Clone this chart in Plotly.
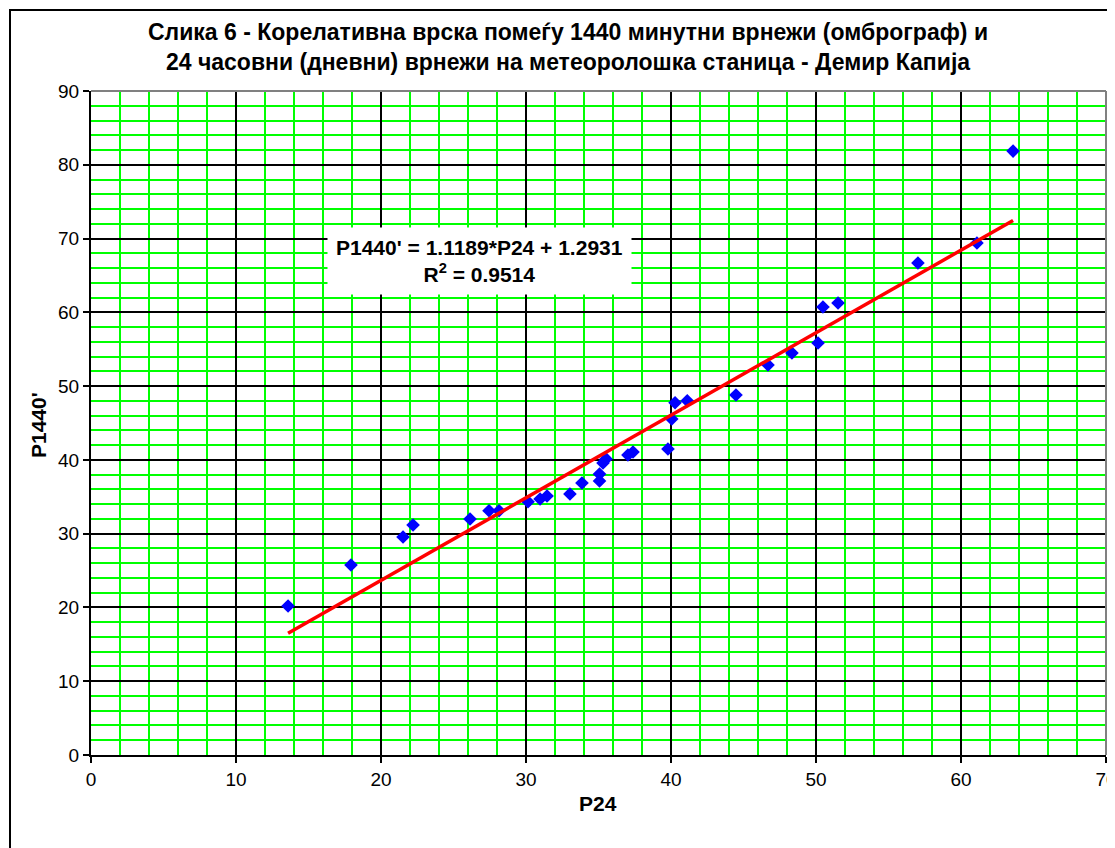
import plotly.graph_objects as go

# Data
p24 = [13.59, 17.93, 21.52, 22.21, 26.14, 27.45, 28.14, 30.14, 30.97, 31.45,
       33.03, 33.86, 35.07, 35.07, 35.31, 35.52, 37.03, 37.38, 39.79, 40.05,
       40.28, 41.12, 44.48, 46.69, 48.34, 50.14, 50.48, 51.52, 57.03, 61.10, 63.59]
p1440 = [20.19, 25.75, 29.55, 31.17, 31.99, 33.11, 33.11, 34.33, 34.70, 35.10,
         35.38, 36.87, 37.14, 38.09, 39.58, 40.13, 40.66, 41.07, 41.47, 45.54,
         47.75, 48.02, 48.79, 52.86, 54.49, 55.84, 60.72, 61.27, 66.69, 69.40, 81.86]

slope = 1.1189
intercept = 1.2931
r2 = 0.9514

title_lines = ["Слика 6 - Корелативна врска помеѓу 1440 минутни врнежи (омброграф) и",
               "24 часовни (дневни) врнежи на метеоролошка станица - Демир Капија"]
x_title = "P24"
y_title = "P1440'"

x_ticks = [0, 10, 20, 30, 40, 50, 60, 70]
y_ticks = [0, 10, 20, 30, 40, 50, 60, 70, 80, 90]

FONT = "Arial, 'Liberation Sans', sans-serif"

xmin, xmax = min(p24), max(p24)
trend_x = [xmin, xmax]
trend_y = [slope * v + intercept for v in trend_x]

fig = go.Figure()
fig.add_trace(go.Scatter(x=p24, y=p1440, mode="markers",
                         marker=dict(symbol="diamond", size=10.5, color="#0000FF",
                                     line=dict(width=0)),
                         showlegend=False))
fig.add_trace(go.Scatter(x=trend_x, y=trend_y, mode="lines",
                         line=dict(color="#FF0000", width=3.5),
                         showlegend=False))

axis_common = dict(
    showgrid=True, gridcolor="#000000", gridwidth=1.5,
    showline=True, linecolor="#000000", linewidth=2,
    ticks="outside", ticklen=6, tickcolor="#000000", tickwidth=1.5,
    tickfont=dict(family=FONT, size=19, color="#000000"),
    zeroline=False, ticklabeloverflow="allow", automargin=False,
    minor=dict(dtick=2, showgrid=True, gridcolor="#00FF00", gridwidth=2, ticks=""),
)

fig.update_xaxes(range=[0, 70], tickvals=x_ticks, **axis_common)
fig.update_yaxes(range=[0, 90], tickvals=y_ticks, **axis_common)

# plot area top/right border (grey) and outer frame
shapes = [
    dict(type="line", xref="paper", yref="paper", x0=0, x1=1, y0=1, y1=1,
         line=dict(color="#808080", width=2), layer="above"),
    dict(type="line", xref="paper", yref="paper", x0=1, x1=1, y0=0, y1=1,
         line=dict(color="#808080", width=2), layer="above"),
    dict(type="rect", xref="paper", yref="paper",
         x0=(10 - 91) / 1015, x1=(1125 - 91) / 1015,
         y0=(755 - 860) / 664, y1=(755 - 10) / 664,
         line=dict(color="#000000", width=2), layer="above"),
]

annotations = [
    dict(text="<b>" + title_lines[0] + "<br>" + title_lines[1] + "</b>",
         xref="paper", yref="paper", x=(568 - 91) / 1015, y=(755 - 47) / 664,
         xanchor="center", yanchor="middle", showarrow=False,
         font=dict(family=FONT, size=23, color="#000000"), align="center"),
    dict(text="<b>" + x_title + "</b>", xref="paper", yref="paper",
         x=(598 - 91) / 1015, y=(755 - 803) / 664, xanchor="center", yanchor="middle",
         showarrow=False, font=dict(family=FONT, size=21, color="#000000")),
    dict(text="<b>" + y_title + "</b>", xref="paper", yref="paper",
         x=(38 - 91) / 1015, y=(755 - 425) / 664, xanchor="center", yanchor="middle",
         textangle=-90, showarrow=False, font=dict(family=FONT, size=21, color="#000000")),
    dict(text=f"<b>P1440' = {slope}*P24 + {intercept}<br>R<sup>2</sup> = {r2}</b>",
         x=26.76, y=66.96, xref="x", yref="y", xanchor="center", yanchor="middle",
         showarrow=False, bgcolor="#FFFFFF", borderpad=8, align="center",
         font=dict(family=FONT, size=21, color="#000000")),
]

# The page body has an 8px margin, so the figure is sized/offset accordingly
fig.update_layout(
    width=1107, height=840,
    margin=dict(l=83, r=9, t=83, b=93, autoexpand=False),
    paper_bgcolor="#FFFFFF", plot_bgcolor="#FFFFFF",
    shapes=shapes, annotations=annotations,
    font=dict(family=FONT, color="#000000"),
)

fig.write_html("out.html")
